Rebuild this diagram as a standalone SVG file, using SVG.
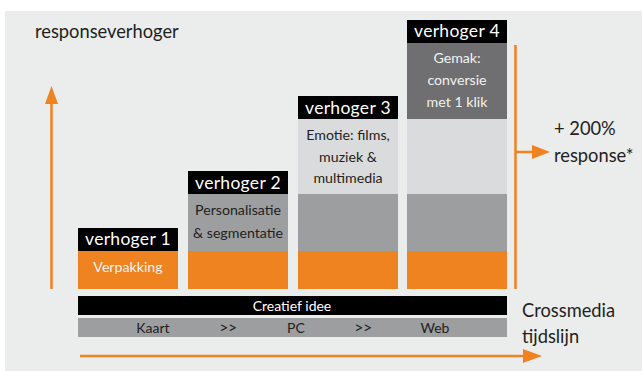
<svg xmlns="http://www.w3.org/2000/svg" width="642" height="371" viewBox="0 0 642 371">
<style>
text{font-family:Lato,"Open Sans","Liberation Sans",sans-serif}
.hdr{fill:#000}
.ht{fill:#fff;font-size:17.5px;text-anchor:middle;letter-spacing:0.3px}
.or{fill:#EE831F}
.g{fill:#9D9EA0}
.lg{fill:#DADBDC}
.dg{fill:#6F6F71}
.bt{fill:#231F20;font-size:14.2px;text-anchor:middle}
.wt{fill:#F2F2F2;font-size:14.2px;text-anchor:middle}
.big{fill:#231F20;font-size:18.3px}
.bar{fill:#231F20;font-size:14px;text-anchor:middle}
.sep{font-size:16px;letter-spacing:-0.5px}
.ln{stroke:#EE831F;stroke-width:2.5;fill:none}
.ah{fill:#EE831F}
</style>
<rect x="0" y="0" width="642" height="371" fill="#fff"/>
<rect x="5" y="11" width="637" height="360" fill="#EBECEC"/>
<g id="title"><text class="big" x="35" y="38">responseverhoger</text></g>
<g id="col1">
<rect class="or" x="78" y="251" width="100" height="38"/>
<rect class="hdr" x="78" y="228" width="100" height="23"/>
<text class="ht" x="128" y="245">verhoger 1</text>
<text class="wt" x="128" y="272">Verpakking</text>
</g>
<g id="col2">
<rect class="or" x="188" y="251" width="100" height="38"/>
<rect class="g" x="188" y="194" width="100" height="57"/>
<rect class="hdr" x="188" y="171" width="100" height="23"/>
<text class="ht" x="238" y="189">verhoger 2</text>
<text class="bt" x="238" y="215">Personalisatie</text>
<text class="bt" x="238" y="238">&amp; segmentatie</text>
</g>
<g id="col3">
<rect class="or" x="298" y="251" width="100" height="38"/>
<rect class="g" x="298" y="194" width="100" height="57"/>
<rect class="lg" x="298" y="119" width="100" height="75"/>
<rect class="hdr" x="298" y="96" width="100" height="23"/>
<text class="ht" x="348" y="114">verhoger 3</text>
<text class="bt" x="348" y="140">Emotie: films,</text>
<text class="bt" x="348" y="162">muziek &amp;</text>
<text class="bt" x="348" y="183">multimedia</text>
</g>
<g id="col4">
<rect class="or" x="407" y="251" width="100" height="38"/>
<rect class="g" x="407" y="194" width="100" height="57"/>
<rect class="lg" x="407" y="119" width="100" height="75"/>
<rect class="dg" x="407" y="43" width="100" height="76"/>
<rect class="hdr" x="407" y="20" width="100" height="23"/>
<text class="ht" x="457" y="37">verhoger 4</text>
<text class="wt" x="457" y="63">Gemak:</text>
<text class="wt" x="457" y="85">conversie</text>
<text class="wt" x="457" y="107">met 1 klik</text>
</g>
<g id="creatief">
<rect x="78" y="296" width="429" height="19" fill="#000"/>
<text x="292" y="310.5" fill="#fff" font-size="14" text-anchor="middle">Creatief idee</text>
</g>
<g id="tijdlijn">
<rect class="g" x="78" y="318" width="429" height="19"/>
<text class="bar" x="153" y="333">Kaart</text>
<text class="bar sep" x="228" y="333">&gt;&gt;</text>
<text class="bar" x="296" y="333">PC</text>
<text class="bar sep" x="363" y="333">&gt;&gt;</text>
<text class="bar" x="435" y="333">Web</text>
</g>
<g id="result">
<text class="big" x="554" y="135">+ 200%</text>
<text class="big" x="554" y="162">response*</text>
</g>
<g id="axislabel">
<text class="big" x="522" y="317">Crossmedia</text>
<text class="big" x="522" y="343">tijdslijn</text>
</g>
<g id="connectors">
<line class="ln" x1="51.5" y1="102" x2="51.5" y2="289"/>
<polygon class="ah" points="45,104 58,104 51.5,86"/>
<line class="ln" x1="515.5" y1="45" x2="515.5" y2="289"/>
<line class="ln" x1="515.5" y1="152" x2="534" y2="152"/>
<polygon class="ah" points="532,145 532,159 550,152"/>
<line class="ln" x1="80" y1="356" x2="525" y2="356"/>
<polygon class="ah" points="523,349 523,363 542,356"/>
</g>
</svg>
